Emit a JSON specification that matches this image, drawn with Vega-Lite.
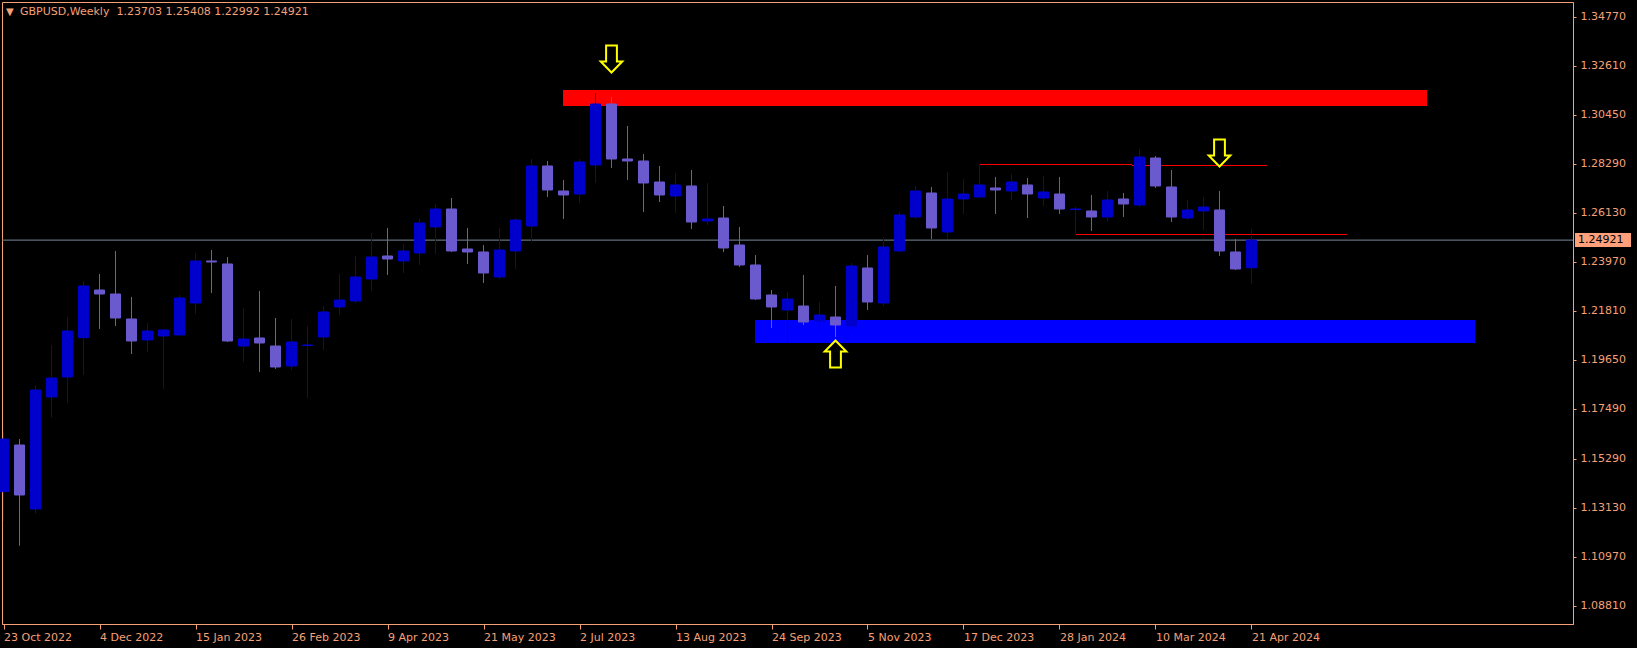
{
  "$schema": "https://vega.github.io/schema/vega-lite/v6.json",
  "width": 1571,
  "height": 622,
  "autosize": {"type": "none"},
  "padding": {"left": 2, "top": 2, "right": 64, "bottom": 24},
  "background": "#000000",
  "config": {"view": {"stroke": "#F5A077", "strokeWidth": 1}, "font": "DejaVu Sans"},
  "datasets": {
    "candles": [
      {"date": "2022-10-23", "open": 1.13831, "high": 1.16476, "low": 1.12540, "close": 1.16154},
      {"date": "2022-10-30", "open": 1.15890, "high": 1.16154, "low": 1.11451, "close": 1.13686},
      {"date": "2022-11-06", "open": 1.13069, "high": 1.18535, "low": 1.12861, "close": 1.18314},
      {"date": "2022-11-13", "open": 1.18006, "high": 1.20298, "low": 1.17093, "close": 1.18843},
      {"date": "2022-11-20", "open": 1.18887, "high": 1.21532, "low": 1.17741, "close": 1.20915},
      {"date": "2022-11-27", "open": 1.20620, "high": 1.23119, "low": 1.18975, "close": 1.22899},
      {"date": "2022-12-04", "open": 1.22722, "high": 1.23428, "low": 1.21003, "close": 1.22546},
      {"date": "2022-12-11", "open": 1.22546, "high": 1.24442, "low": 1.21136, "close": 1.21488},
      {"date": "2022-12-18", "open": 1.21444, "high": 1.22414, "low": 1.19901, "close": 1.20474},
      {"date": "2022-12-25", "open": 1.20518, "high": 1.21268, "low": 1.19989, "close": 1.20915},
      {"date": "2023-01-01", "open": 1.20695, "high": 1.21003, "low": 1.18358, "close": 1.20959},
      {"date": "2023-01-08", "open": 1.20739, "high": 1.22502, "low": 1.20720, "close": 1.22370},
      {"date": "2023-01-15", "open": 1.22149, "high": 1.24353, "low": 1.21665, "close": 1.24001},
      {"date": "2023-01-22", "open": 1.24001, "high": 1.24486, "low": 1.22590, "close": 1.23957},
      {"date": "2023-01-29", "open": 1.23869, "high": 1.24177, "low": 1.20430, "close": 1.20474},
      {"date": "2023-02-05", "open": 1.20254, "high": 1.21929, "low": 1.19549, "close": 1.20562},
      {"date": "2023-02-12", "open": 1.20606, "high": 1.22678, "low": 1.19108, "close": 1.20386},
      {"date": "2023-02-19", "open": 1.20254, "high": 1.21488, "low": 1.19240, "close": 1.19328},
      {"date": "2023-02-26", "open": 1.19372, "high": 1.21444, "low": 1.19196, "close": 1.20430},
      {"date": "2023-03-05", "open": 1.20276, "high": 1.21136, "low": 1.17962, "close": 1.20298},
      {"date": "2023-03-12", "open": 1.20651, "high": 1.22017, "low": 1.20078, "close": 1.21753},
      {"date": "2023-03-19", "open": 1.21973, "high": 1.23428, "low": 1.21620, "close": 1.22282},
      {"date": "2023-03-26", "open": 1.22238, "high": 1.24221, "low": 1.22149, "close": 1.23296},
      {"date": "2023-04-02", "open": 1.23207, "high": 1.25235, "low": 1.22678, "close": 1.24177},
      {"date": "2023-04-09", "open": 1.24221, "high": 1.25456, "low": 1.23384, "close": 1.24089},
      {"date": "2023-04-16", "open": 1.24001, "high": 1.24750, "low": 1.23472, "close": 1.24442},
      {"date": "2023-04-23", "open": 1.24353, "high": 1.25852, "low": 1.23825, "close": 1.25676},
      {"date": "2023-04-30", "open": 1.25500, "high": 1.26514, "low": 1.24309, "close": 1.26293},
      {"date": "2023-05-07", "open": 1.26293, "high": 1.26778, "low": 1.24398, "close": 1.24442},
      {"date": "2023-05-14", "open": 1.24530, "high": 1.25456, "low": 1.23869, "close": 1.24398},
      {"date": "2023-05-21", "open": 1.24398, "high": 1.24706, "low": 1.23031, "close": 1.23472},
      {"date": "2023-05-28", "open": 1.23296, "high": 1.25456, "low": 1.23207, "close": 1.24486},
      {"date": "2023-06-04", "open": 1.24442, "high": 1.25896, "low": 1.23648, "close": 1.25808},
      {"date": "2023-06-11", "open": 1.25544, "high": 1.28497, "low": 1.24882, "close": 1.28189},
      {"date": "2023-06-18", "open": 1.28189, "high": 1.28409, "low": 1.26822, "close": 1.27131},
      {"date": "2023-06-25", "open": 1.27087, "high": 1.27571, "low": 1.25852, "close": 1.26910},
      {"date": "2023-07-02", "open": 1.26954, "high": 1.28497, "low": 1.26558, "close": 1.28365},
      {"date": "2023-07-09", "open": 1.28233, "high": 1.31407, "low": 1.27439, "close": 1.30922},
      {"date": "2023-07-16", "open": 1.30922, "high": 1.31230, "low": 1.28100, "close": 1.28497},
      {"date": "2023-07-23", "open": 1.28497, "high": 1.29952, "low": 1.27571, "close": 1.28409},
      {"date": "2023-07-30", "open": 1.28409, "high": 1.28718, "low": 1.26161, "close": 1.27439},
      {"date": "2023-08-06", "open": 1.27483, "high": 1.28189, "low": 1.26602, "close": 1.26910},
      {"date": "2023-08-13", "open": 1.26866, "high": 1.27880, "low": 1.26117, "close": 1.27351},
      {"date": "2023-08-20", "open": 1.27307, "high": 1.28012, "low": 1.25411, "close": 1.25720},
      {"date": "2023-08-27", "open": 1.25764, "high": 1.27439, "low": 1.25588, "close": 1.25852},
      {"date": "2023-09-03", "open": 1.25896, "high": 1.26425, "low": 1.24398, "close": 1.24574},
      {"date": "2023-09-10", "open": 1.24706, "high": 1.25500, "low": 1.23736, "close": 1.23825},
      {"date": "2023-09-17", "open": 1.23825, "high": 1.24265, "low": 1.22282, "close": 1.22326},
      {"date": "2023-09-24", "open": 1.22502, "high": 1.22722, "low": 1.21047, "close": 1.21973},
      {"date": "2023-10-01", "open": 1.21841, "high": 1.22634, "low": 1.20386, "close": 1.22326},
      {"date": "2023-10-08", "open": 1.22017, "high": 1.23384, "low": 1.21180, "close": 1.21312},
      {"date": "2023-10-15", "open": 1.21356, "high": 1.22193, "low": 1.20871, "close": 1.21620},
      {"date": "2023-10-22", "open": 1.21532, "high": 1.22899, "low": 1.20651, "close": 1.21180},
      {"date": "2023-10-29", "open": 1.21136, "high": 1.23913, "low": 1.20871, "close": 1.23780},
      {"date": "2023-11-05", "open": 1.23692, "high": 1.24265, "low": 1.21841, "close": 1.22193},
      {"date": "2023-11-12", "open": 1.22149, "high": 1.25059, "low": 1.22017, "close": 1.24618},
      {"date": "2023-11-19", "open": 1.24442, "high": 1.26161, "low": 1.24398, "close": 1.26029},
      {"date": "2023-11-26", "open": 1.25940, "high": 1.27307, "low": 1.25852, "close": 1.27087},
      {"date": "2023-12-03", "open": 1.26998, "high": 1.27263, "low": 1.24971, "close": 1.25456},
      {"date": "2023-12-10", "open": 1.25279, "high": 1.27924, "low": 1.24971, "close": 1.26734},
      {"date": "2023-12-17", "open": 1.26734, "high": 1.27616, "low": 1.26073, "close": 1.26954},
      {"date": "2023-12-24", "open": 1.26822, "high": 1.28277, "low": 1.26778, "close": 1.27351},
      {"date": "2023-12-31", "open": 1.27219, "high": 1.27704, "low": 1.26073, "close": 1.27131},
      {"date": "2024-01-07", "open": 1.27087, "high": 1.27836, "low": 1.26690, "close": 1.27483},
      {"date": "2024-01-14", "open": 1.27351, "high": 1.27660, "low": 1.25896, "close": 1.26954},
      {"date": "2024-01-21", "open": 1.26778, "high": 1.27748, "low": 1.26425, "close": 1.27042},
      {"date": "2024-01-28", "open": 1.26954, "high": 1.27704, "low": 1.26073, "close": 1.26293},
      {"date": "2024-02-04", "open": 1.26271, "high": 1.26394, "low": 1.25191, "close": 1.26293},
      {"date": "2024-02-11", "open": 1.26205, "high": 1.26910, "low": 1.25323, "close": 1.25940},
      {"date": "2024-02-18", "open": 1.25940, "high": 1.27087, "low": 1.25764, "close": 1.26690},
      {"date": "2024-02-25", "open": 1.26734, "high": 1.26998, "low": 1.25940, "close": 1.26514},
      {"date": "2024-03-03", "open": 1.26469, "high": 1.28938, "low": 1.26381, "close": 1.28585},
      {"date": "2024-03-10", "open": 1.28541, "high": 1.28629, "low": 1.27219, "close": 1.27307},
      {"date": "2024-03-17", "open": 1.27263, "high": 1.28012, "low": 1.25720, "close": 1.25940},
      {"date": "2024-03-24", "open": 1.25896, "high": 1.26690, "low": 1.25808, "close": 1.26249},
      {"date": "2024-03-31", "open": 1.26205, "high": 1.26822, "low": 1.25367, "close": 1.26381},
      {"date": "2024-04-07", "open": 1.26249, "high": 1.27087, "low": 1.24221, "close": 1.24442},
      {"date": "2024-04-14", "open": 1.24398, "high": 1.24971, "low": 1.23604, "close": 1.23648},
      {"date": "2024-04-21", "open": 1.23703, "high": 1.25408, "low": 1.22992, "close": 1.24921}
    ],
    "zones": [
      {"zone": "supply", "start": "2023-06-24T19:00:00Z", "end": "2024-07-06T19:00:00Z", "low": 1.30833, "high": 1.31539},
      {"zone": "demand", "start": "2023-09-16T19:00:00Z", "end": "2024-07-27T19:00:00Z", "low": 1.20386, "high": 1.21400}
    ],
    "levels": [
      {"start": "2023-12-24T05:00:00Z", "end": "2024-02-28T17:00:00Z", "price": 1.28254},
      {"start": "2024-02-28T17:00:00Z", "end": "2024-04-27T19:00:00Z", "price": 1.28210},
      {"start": "2024-02-04T05:00:00Z", "end": "2024-06-01T19:00:00Z", "price": 1.25168}
    ],
    "arrows": [
      {"date": "2023-07-16", "price": 1.32905, "dir": "down"},
      {"date": "2024-04-07", "price": 1.28762, "dir": "down"},
      {"date": "2023-10-22", "price": 1.19901, "dir": "up"}
    ],
    "last": [
      {"start": "2024-09-09T13:00:00Z", "end": "2024-10-04T01:00:00Z", "price": 1.24921, "low": 1.24612, "high": 1.25230, "label": "1.24921"}
    ],
    "header": [
      {"date": 1666426348800, "price": 1.35417, "symbol": "▼", "text": "GBPUSD,Weekly\u00a0\u00a01.23703 1.25408 1.22992 1.24921"}
    ]
  },
  "layer": [
    {
      "data": {"name": "zones"},
      "mark": {"type": "rect"},
      "encoding": {
        "x": {"field": "start", "type": "temporal",
              "scale": {"type": "utc", "domain": [1666426348800, 1725810451200], "padding": 0},
              "axis": {
                "values": [1666483200000, 1670112000000, 1673740800000, 1677369600000, 1680998400000, 1684627200000, 1688256000000, 1691884800000, 1695513600000, 1699142400000, 1702771200000, 1706400000000, 1710028800000, 1713657600000],
                "format": "%-d %b %Y", "title": null, "grid": false,
                "labelAlign": "left", "labelColor": "#F5A077", "labelFontSize": 11, "labelFont": "DejaVu Sans",
                "labelPadding": 2, "tickColor": "#F5A077", "tickSize": 5, "domainColor": "#F5A077", "labelOverlap": false, "labelFlush": false
              }},
        "x2": {"field": "end"},
        "y": {"field": "low", "type": "quantitative",
              "scale": {"domain": [1.07999, 1.35417], "zero": false, "nice": false, "padding": 0},
              "axis": {
                "orient": "right", "values": [1.0881, 1.1097, 1.1313, 1.1529, 1.1749, 1.1965, 1.2181, 1.2397, 1.2613, 1.2829, 1.3045, 1.3261, 1.3477],
                "format": ".5f", "title": null, "grid": false,
                "labelColor": "#F5A077", "labelFontSize": 11, "labelFont": "DejaVu Sans", "labelPadding": 4,
                "tickColor": "#F5A077", "tickSize": 3, "domainColor": "#F5A077", "labelOverlap": false, "labelFlush": false
              }},
        "y2": {"field": "high"},
        "color": {"field": "zone", "type": "nominal", "scale": {"domain": ["supply", "demand"], "range": ["#FF0000", "#0000FF"]}, "legend": null}
      }
    },
    {
      "data": {"name": "levels"},
      "mark": {"type": "rule", "color": "#FF0000", "strokeWidth": 1},
      "encoding": {
        "x": {"field": "start", "type": "temporal", "title": null},
        "x2": {"field": "end"},
        "y": {"field": "price", "type": "quantitative", "title": null}
      }
    },
    {
      "data": {"name": "last"},
      "mark": {"type": "rule", "color": "#778899", "strokeWidth": 1},
      "encoding": {
        "y": {"field": "price", "type": "quantitative", "title": null}
      }
    },
    {
      "data": {"name": "candles"},
      "mark": {"type": "rule", "strokeWidth": 1},
      "encoding": {
        "x": {"field": "date", "type": "temporal", "title": null},
        "y": {"field": "low", "type": "quantitative", "title": null},
        "y2": {"field": "high"},
        "color": {"condition": {"test": "datum.close >= datum.open", "value": "#0000CD"}, "value": "#6A5ACD"}
      }
    },
    {
      "data": {"name": "candles"},
      "mark": {"type": "bar", "size": 10, "strokeWidth": 1},
      "encoding": {
        "x": {"field": "date", "type": "temporal", "title": null},
        "y": {"field": "open", "type": "quantitative", "title": null},
        "y2": {"field": "close"},
        "color": {"condition": {"test": "datum.close >= datum.open", "value": "#0000CD"}, "value": "#6A5ACD"},
        "stroke": {"condition": {"test": "datum.close >= datum.open", "value": "#0000CD"}, "value": "#6A5ACD"}
      }
    },
    {
      "data": {"name": "arrows"},
      "mark": {"type": "point", "filled": false, "stroke": "#FFFF00", "strokeWidth": 2, "opacity": 1, "size": 729},
      "encoding": {
        "x": {"field": "date", "type": "temporal", "title": null},
        "y": {"field": "price", "type": "quantitative", "title": null},
        "shape": {"field": "dir", "type": "nominal", "legend": null,
                  "scale": {"domain": ["down", "up"], "range": ["M -0.4 -1 L 0.4 -1 L 0.4 0.18 L 0.8 0.18 L 0 1 L -0.8 0.18 L -0.4 0.18 Z", "M -0.4 1 L 0.4 1 L 0.4 -0.18 L 0.8 -0.18 L 0 -1 L -0.8 -0.18 L -0.4 -0.18 Z"]}}
      }
    },
    {
      "data": {"name": "last"},
      "mark": {"type": "rect", "color": "#FFA07A"},
      "encoding": {
        "x": {"field": "start", "type": "temporal", "title": null},
        "x2": {"field": "end"},
        "y": {"field": "low", "type": "quantitative", "title": null},
        "y2": {"field": "high"}
      }
    },
    {
      "data": {"name": "last"},
      "mark": {"type": "text", "align": "left", "baseline": "middle", "color": "#000000", "font": "DejaVu Sans", "fontSize": 11, "dx": 3},
      "encoding": {
        "x": {"field": "start", "type": "temporal", "title": null},
        "y": {"field": "price", "type": "quantitative", "title": null},
        "text": {"field": "label"}
      }
    },
    {
      "data": {"name": "header"},
      "mark": {"type": "text", "align": "left", "baseline": "middle", "color": "#F5A077", "font": "DejaVu Sans", "fontSize": 10, "dx": 4, "dy": 10},
      "encoding": {
        "x": {"field": "date", "type": "temporal", "title": null},
        "y": {"field": "price", "type": "quantitative", "title": null},
        "text": {"field": "symbol"}
      }
    },
    {
      "data": {"name": "header"},
      "mark": {"type": "text", "align": "left", "baseline": "middle", "color": "#F5A077", "font": "DejaVu Sans", "fontSize": 11, "dx": 18, "dy": 10},
      "encoding": {
        "x": {"field": "date", "type": "temporal", "title": null},
        "y": {"field": "price", "type": "quantitative", "title": null},
        "text": {"field": "text"}
      }
    }
  ]
}
